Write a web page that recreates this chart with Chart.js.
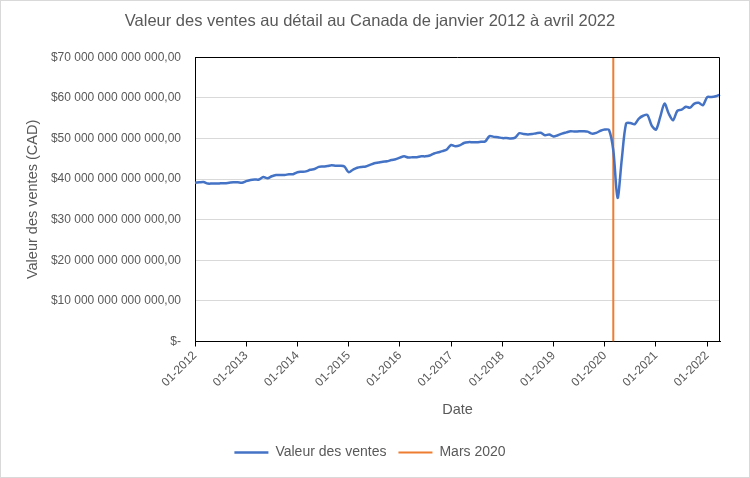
<!DOCTYPE html>
<html lang="fr">
<head>
<meta charset="utf-8">
<title>Valeur des ventes au détail au Canada</title>
<script src="https://cdn.jsdelivr.net/npm/chart.js@4.4.1/dist/chart.umd.min.js"></script>
<style>
  html, body { margin: 0; padding: 0; background: #fff; }
  #ventesChart { display: block; }
</style>
</head>
<body>
<canvas id="ventesChart" width="750" height="478"></canvas>
<script>
// Months and years of the series (01-2012 .. 04-2022)
const years = [2012, 2013, 2014, 2015, 2016, 2017, 2018, 2019, 2020, 2021, 2022];
const months = ["01", "02", "03", "04", "05", "06", "07", "08", "09", "10", "11", "12"];
const lastMonthCount = 4; // 2022 stops in April

// Monthly retail sales (same unit as the axis labels / 1e12)
const sales2012 = [39.1, 39.2, 39.3, 38.9, 38.9, 38.9, 38.95, 39.0, 39.1, 39.2, 39.2, 39.1];
const sales2013 = [39.5, 39.8, 39.9, 39.9, 40.5, 40.2, 40.7, 41.0, 41.0, 41.0, 41.2, 41.2];
const sales2014 = [41.7, 41.8, 41.9, 42.3, 42.5, 43.0, 43.1, 43.2, 43.4, 43.3, 43.3, 43.1];
const sales2015 = [41.7, 42.3, 42.8, 43.0, 43.1, 43.5, 43.9, 44.1, 44.3, 44.4, 44.7, 44.9];
const sales2016 = [45.3, 45.6, 45.3, 45.4, 45.4, 45.6, 45.6, 45.8, 46.3, 46.6, 46.9, 47.3];
const sales2017 = [48.4, 48.1, 48.3, 48.9, 49.1, 49.1, 49.1, 49.2, 49.3, 50.6, 50.4, 50.3];
const sales2018 = [50.1, 50.1, 50.0, 50.2, 51.3, 51.1, 51.0, 51.1, 51.3, 51.4, 50.8, 51.0];
const sales2019 = [50.5, 50.8, 51.2, 51.5, 51.8, 51.7, 51.8, 51.8, 51.7, 51.2, 51.4, 51.9];
const sales2020 = [52.2, 52.1, 47.1, 35.4, 45.0, 53.7, 53.8, 53.5, 54.9, 55.6, 55.8, 53.2];
const sales2021 = [52.2, 55.3, 58.6, 56.1, 54.5, 56.8, 57.1, 57.8, 57.6, 58.6, 58.8, 58.2];
const sales2022 = [60.2, 60.2, 60.4, 60.8];

// Vertical marker for March 2020
const marchLabel = "03-2020";
const marchRange = [0, 70];

// Y axis tick labels (0 .. 70, step 10)
const yTickLabels = [
  "$-",
  "$10 000 000 000 000,00",
  "$20 000 000 000 000,00",
  "$30 000 000 000 000,00",
  "$40 000 000 000 000,00",
  "$50 000 000 000 000,00",
  "$60 000 000 000 000,00",
  "$70 000 000 000 000,00"
];

const labels = [];
years.forEach(function (y, i) {
  const n = i === years.length - 1 ? lastMonthCount : months.length;
  for (let m = 0; m < n; m++) labels.push(months[m] + "-" + y);
});
const salesValues = [].concat(sales2012, sales2013, sales2014, sales2015, sales2016,
  sales2017, sales2018, sales2019, sales2020, sales2021, sales2022);

const textGray = "#595959";
const fontFamily = "'Liberation Sans', Arial, sans-serif";

// white background, outer border and frame around the plot area
const framePlugin = {
  id: "frame",
  beforeDraw(chart) {
    const ctx = chart.ctx;
    ctx.save();
    ctx.fillStyle = "#fff";
    ctx.fillRect(0, 0, chart.width, chart.height);
    ctx.strokeStyle = "#d9d9d9";
    ctx.lineWidth = 1;
    ctx.strokeRect(0.5, 0.5, chart.width - 1, chart.height - 1);
    ctx.restore();
  },
  afterDatasetsDraw(chart) {
    const a = chart.chartArea;
    const ctx = chart.ctx;
    ctx.save();
    ctx.strokeStyle = "#000";
    ctx.lineWidth = 1;
    ctx.beginPath();
    ctx.moveTo(Math.round(a.left) + 0.5, Math.round(a.top) + 0.5);
    ctx.lineTo(Math.round(a.right) - 0.5, Math.round(a.top) + 0.5);
    ctx.lineTo(Math.round(a.right) - 0.5, Math.round(a.bottom));
    ctx.stroke();
    ctx.restore();
  }
};

new Chart(document.getElementById("ventesChart"), {
  type: "line",
  data: {
    labels: labels,
    datasets: [
      {
        label: "Valeur des ventes",
        data: salesValues,
        borderColor: "#4472C4",
        backgroundColor: "#4472C4",
        borderWidth: 2.5,
        pointRadius: 0,
        tension: 0.3,
        fill: false
      },
      {
        label: "Mars 2020",
        data: marchRange.map(function (v) { return { x: marchLabel, y: v }; }),
        borderColor: "#ED7D31",
        backgroundColor: "#ED7D31",
        borderWidth: 2,
        pointRadius: 0,
        fill: false
      }
    ]
  },
  options: {
    responsive: false,
    animation: false,
    layout: { padding: { left: 20, right: 30, top: 0, bottom: 8.5 } },
    plugins: {
      title: {
        display: true,
        text: "Valeur des ventes au détail au Canada de janvier 2012 à avril 2022",
        color: textGray,
        font: { family: fontFamily, size: 16.5, weight: "normal" },
        padding: { top: 12, bottom: 25.5 }
      },
      legend: {
        position: "bottom",
        labels: {
          color: textGray,
          font: { family: fontFamily, size: 14 },
          usePointStyle: true,
          pointStyle: "line",
          pointStyleWidth: 34,
          boxHeight: 13,
          padding: 12
        }
      },
      tooltip: { enabled: false }
    },
    scales: {
      x: {
        type: "category",
        offset: false,
        afterFit(scale) { scale.height = 92; },
        grid: {
          drawOnChartArea: false,
          drawTicks: true,
          tickLength: 5,
          tickColor: function (ctx) {
            const l = labels[ctx.index];
            return l && l.indexOf("01-") === 0 ? "#000" : "rgba(0,0,0,0)";
          }
        },
        border: { color: "#000", width: 1 },
        ticks: {
          autoSkip: false,
          minRotation: 45,
          maxRotation: 45,
          padding: 2,
          color: textGray,
          font: { family: fontFamily, size: 12 },
          callback: function (value, index) {
            const l = labels[index];
            return l.indexOf("01-") === 0 ? l : "";
          }
        },
        title: {
          display: true,
          text: "Date",
          color: textGray,
          font: { family: fontFamily, size: 14.5 },
          padding: { top: 0, bottom: 15 }
        }
      },
      y: {
        min: 0,
        max: 70,
        afterFit(scale) { scale.width = 175; },
        grid: { color: "#d9d9d9", drawTicks: false },
        border: { color: "#000", width: 1 },
        ticks: {
          stepSize: 10,
          padding: 14,
          color: textGray,
          font: { family: fontFamily, size: 12 },
          callback: function (value, index) { return yTickLabels[index]; }
        },
        title: {
          display: true,
          text: "Valeur des ventes (CAD)",
          color: textGray,
          font: { family: fontFamily, size: 14.5 },
          padding: { top: 4, bottom: 0 }
        }
      }
    }
  },
  plugins: [framePlugin]
});
</script>
</body>
</html>
